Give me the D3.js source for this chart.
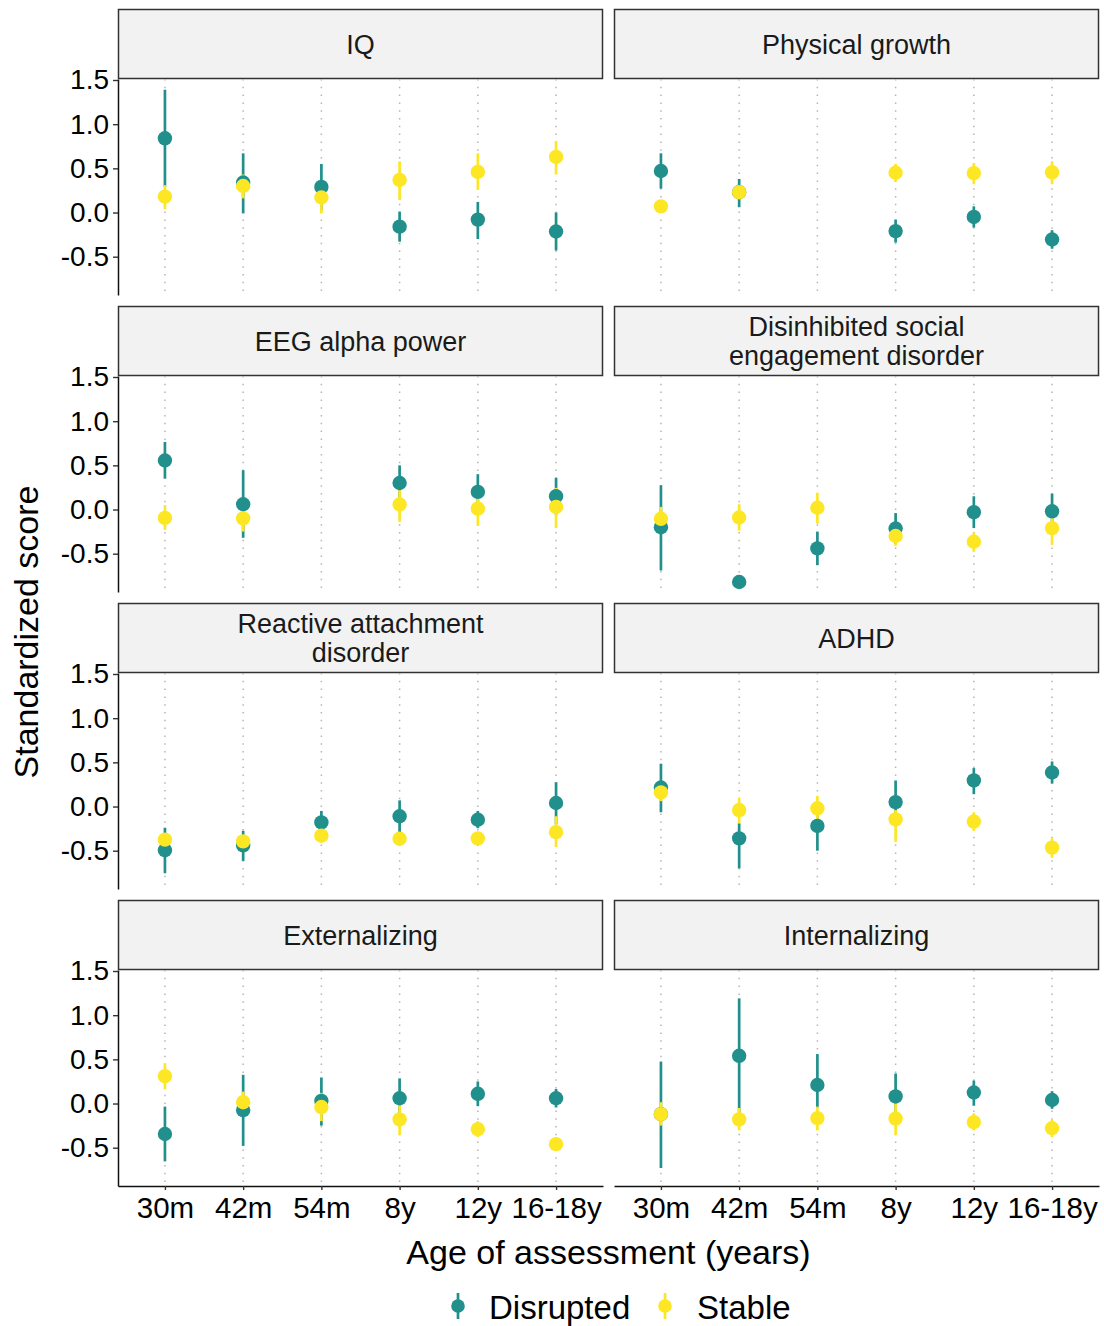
<!DOCTYPE html>
<html>
<head>
<meta charset="utf-8">
<script src="https://cdn.jsdelivr.net/npm/d3@7"></script>
<style>
  body { margin: 0; background: #fff; }
  svg { display: block; font-family: "Liberation Sans", Arial, Helvetica, sans-serif; }
</style>
</head>
<body>
<svg id="chart" width="1104" height="1326"></svg>
<script>
// Assessment waves (x categories)
const ages = ["30m", "42m", "54m", "8y", "12y", "16-18y"];
const groups = ["Disrupted", "Stable"];
const groupColors = ["#21908C", "#FDE725"];
// Facet titles (one entry per line)
const outcomes = [
  ["IQ"],
  ["Physical growth"],
  ["EEG alpha power"],
  ["Disinhibited social", "engagement disorder"],
  ["Reactive attachment", "disorder"],
  ["ADHD"],
  ["Externalizing"],
  ["Internalizing"]
];
const yTicks = [-0.5, 0, 0.5, 1.0, 1.5];

// [estimate, lower CI, upper CI] per wave; null = not assessed
const iqDisrupted   = [[0.84, 0.29, 1.39], [0.34, -0.01, 0.67], [0.29, 0.03, 0.55], [-0.16, -0.33, 0.01], [-0.08, -0.30, 0.12], [-0.215, -0.43, 0.0]];
const iqStable      = [[0.18, 0.04, 0.31], [0.30, 0.16, 0.43], [0.17, -0.01, 0.28], [0.37, 0.14, 0.58], [0.46, 0.26, 0.67], [0.63, 0.43, 0.81]];
const growthDisrupted = [[0.47, 0.27, 0.67], [0.23, 0.06, 0.38], null, [-0.21, -0.34, -0.08], [-0.05, -0.17, 0.07], [-0.305, -0.41, -0.20]];
const growthStable    = [[0.07, 0.0, 0.14], [0.23, 0.17, 0.29], null, [0.45, 0.35, 0.55], [0.445, 0.32, 0.56], [0.455, 0.32, 0.58]];
const eegDisrupted  = [[0.555, 0.35, 0.765], [0.06, -0.32, 0.445], null, [0.30, 0.10, 0.50], [0.20, 0.0, 0.40], [0.15, -0.06, 0.36]];
const eegStable     = [[-0.095, -0.23, 0.05], [-0.10, -0.25, 0.05], null, [0.057, -0.14, 0.22], [0.01, -0.185, 0.20], [0.03, -0.21, 0.245]];
const dsedDisrupted = [[-0.20, -0.69, 0.275], [-0.82, -0.82, -0.82], [-0.44, -0.63, -0.25], [-0.215, -0.39, -0.04], [-0.03, -0.21, 0.15], [-0.02, -0.215, 0.18]];
const dsedStable    = [[-0.105, -0.23, 0.03], [-0.09, -0.24, 0.06], [0.02, -0.16, 0.19], [-0.30, -0.41, -0.19], [-0.365, -0.48, -0.26], [-0.21, -0.40, -0.08]];
const radDisrupted  = [[-0.495, -0.755, -0.24], [-0.44, -0.615, -0.275], [-0.18, -0.30, -0.05], [-0.11, -0.29, 0.07], [-0.15, -0.245, -0.05], [0.04, -0.20, 0.275]];
const radStable     = [[-0.375, -0.43, -0.32], [-0.395, -0.45, -0.34], [-0.33, -0.38, -0.28], [-0.365, -0.42, -0.31], [-0.36, -0.41, -0.31], [-0.29, -0.46, -0.11]];
const adhdDisrupted = [[0.215, -0.065, 0.485], [-0.36, -0.70, -0.19], [-0.22, -0.50, -0.075], [0.05, -0.20, 0.295], [0.295, 0.14, 0.435], [0.385, 0.26, 0.51]];
const adhdStable    = [[0.16, 0.06, 0.26], [-0.04, -0.19, 0.10], [-0.02, -0.16, 0.12], [-0.145, -0.40, -0.04], [-0.17, -0.275, -0.065], [-0.465, -0.58, -0.36]];
const extDisrupted  = [[-0.345, -0.655, -0.035], [-0.075, -0.48, 0.325], [0.03, -0.25, 0.295], [0.06, -0.16, 0.285], [0.11, -0.03, 0.25], [0.06, -0.045, 0.165]];
const extStable     = [[0.31, 0.16, 0.455], [0.015, -0.11, 0.135], [-0.04, -0.20, 0.12], [-0.18, -0.355, -0.015], [-0.29, -0.38, -0.20], [-0.46, -0.52, -0.40]];
const intDisrupted  = [[-0.12, -0.73, 0.475], [0.54, -0.11, 1.19], [0.21, -0.05, 0.56], [0.08, -0.18, 0.34], [0.125, -0.025, 0.26], [0.04, -0.06, 0.14]];
const intStable     = [[-0.12, -0.25, 0.015], [-0.18, -0.305, -0.05], [-0.165, -0.305, -0.035], [-0.17, -0.355, 0.005], [-0.21, -0.305, -0.11], [-0.28, -0.38, -0.185]];

// Series per facet, in the same order as `outcomes`, each [Disrupted, Stable]
const facetSeries = [
  [iqDisrupted, iqStable],
  [growthDisrupted, growthStable],
  [eegDisrupted, eegStable],
  [dsedDisrupted, dsedStable],
  [radDisrupted, radStable],
  [adhdDisrupted, adhdStable],
  [extDisrupted, extStable],
  [intDisrupted, intStable]
];

const svg = d3.select("#chart");

// Facet grid geometry
const colX = [118, 614];
const panelW = 485;
const rowTop0 = 9, rowStep = 297, stripH = 70, plotH = 216;

const color = d3.scaleOrdinal().domain(groups).range(groupColors);
const x = d3.scalePoint().domain(ages).range([0, panelW]).padding(0.6);
const y = d3.scaleLinear().domain([-0.9335, 1.5113]).range([plotH, 0]);

const fmt = d => d.toFixed(1);
const pointR = 7.2;

outcomes.forEach((title, i) => {
  const col = i % 2, row = Math.floor(i / 2);
  const left = colX[col];
  const stripTop = rowTop0 + row * rowStep;
  const plotTop = stripTop + stripH;

  // strip header
  const strip = svg.append("g").attr("transform", `translate(${left},${stripTop})`);
  strip.append("rect")
    .attr("x", 0.5).attr("y", 0.5)
    .attr("width", panelW - 1).attr("height", stripH - 1)
    .attr("fill", "#f2f2f2").attr("stroke", "#333").attr("stroke-width", 1.5);
  const lineGap = 29.5;
  const capMid = stripH / 2 + 9.6;
  strip.append("text")
    .attr("text-anchor", "middle")
    .attr("font-size", 27)
    .attr("fill", "#1a1a1a")
    .selectAll("tspan").data(title).join("tspan")
    .attr("x", panelW / 2)
    .attr("y", (d, k) => capMid + (k - (title.length - 1) / 2) * lineGap)
    .text(d => d);

  const g = svg.append("g").attr("transform", `translate(${left},${plotTop})`);

  // dotted vertical guides at each wave
  g.append("g").selectAll("line").data(ages).join("line")
    .attr("x1", d => x(d)).attr("x2", d => x(d))
    .attr("y1", 0).attr("y2", plotH)
    .attr("stroke", "#b5b5b5").attr("stroke-width", 1.5)
    .attr("stroke-dasharray", "1.5 6.3");

  const rows = [];
  facetSeries[i].forEach((series, gi) => {
    series.forEach((v, ai) => {
      if (v) rows.push({ group: groups[gi], age: ages[ai], est: v[0], lo: v[1], hi: v[2] });
    });
  });

  // confidence intervals, then point estimates
  g.append("g").selectAll("line").data(rows).join("line")
    .attr("x1", d => x(d.age)).attr("x2", d => x(d.age))
    .attr("y1", d => y(d.lo)).attr("y2", d => y(d.hi))
    .attr("stroke", d => color(d.group)).attr("stroke-width", 2.7);
  g.append("g").selectAll("circle").data(rows).join("circle")
    .attr("cx", d => x(d.age)).attr("cy", d => y(d.est))
    .attr("r", pointR)
    .attr("fill", d => color(d.group));

  // y axis on left column
  if (col === 0) {
    const ya = g.append("g")
      .call(d3.axisLeft(y).tickValues(yTicks).tickFormat(fmt).tickSize(5).tickPadding(4).tickSizeOuter(0));
    ya.select(".domain").attr("stroke", "#111").attr("stroke-width", 1.5);
    ya.selectAll(".tick line").attr("stroke", "#333").attr("stroke-width", 1.4);
    ya.selectAll("text").attr("font-size", 28).attr("fill", "#000")
      .attr("font-family", "Liberation Sans, Arial, sans-serif");
  }
  // x axis on bottom row
  if (row === 3) {
    const xa = g.append("g").attr("transform", `translate(0,${plotH})`)
      .call(d3.axisBottom(x).tickSize(4).tickPadding(7).tickSizeOuter(0));
    xa.select(".domain").attr("stroke", "#111").attr("stroke-width", 1.5);
    xa.selectAll(".tick line").attr("stroke", "#333").attr("stroke-width", 1.4);
    xa.selectAll("text").attr("font-size", 29.5).attr("fill", "#000")
      .attr("font-family", "Liberation Sans, Arial, sans-serif");
  }
});

// axis titles
svg.append("text")
  .attr("transform", "translate(37.5,632) rotate(-90)")
  .attr("text-anchor", "middle").attr("font-size", 34).attr("fill", "#000")
  .text("Standardized score");
svg.append("text")
  .attr("x", 608.5).attr("y", 1264)
  .attr("text-anchor", "middle").attr("font-size", 34).attr("fill", "#000")
  .text("Age of assessment (years)");

// legend
const legendItems = [
  { group: "Disrupted", keyX: 458, textX: 489 },
  { group: "Stable", keyX: 665, textX: 697 }
];
const lg = svg.append("g");
legendItems.forEach(it => {
  lg.append("line")
    .attr("x1", it.keyX).attr("x2", it.keyX)
    .attr("y1", 1293).attr("y2", 1319)
    .attr("stroke", color(it.group)).attr("stroke-width", 2.7);
  lg.append("circle")
    .attr("cx", it.keyX).attr("cy", 1306).attr("r", 6.8)
    .attr("fill", color(it.group));
  lg.append("text")
    .attr("x", it.textX).attr("y", 1319)
    .attr("font-size", 33).attr("fill", "#000")
    .text(it.group);
});
</script>
</body>
</html>
